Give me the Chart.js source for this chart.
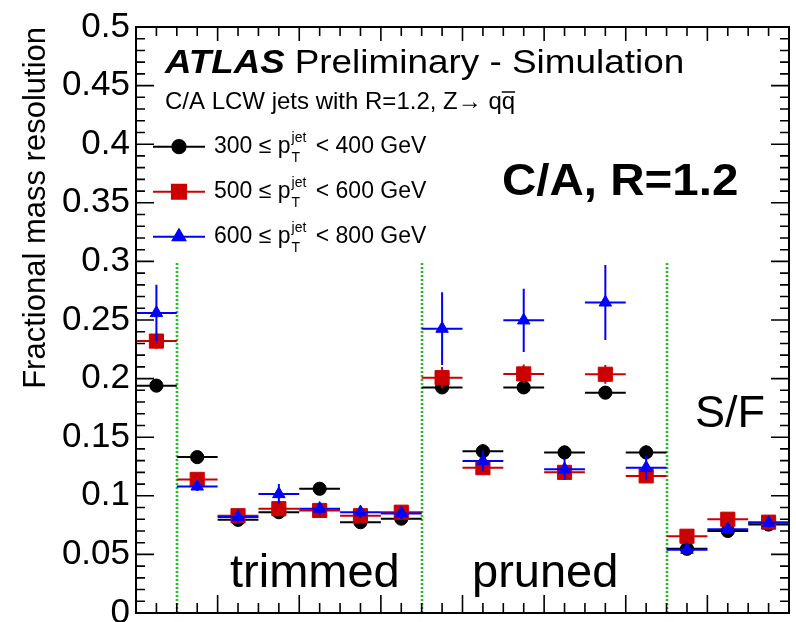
<!DOCTYPE html>
<html><head><meta charset="utf-8">
<script src="https://cdn.jsdelivr.net/npm/chart.js@4/dist/chart.umd.min.js"></script>
<style>html,body{margin:0;padding:0;overflow:hidden;background:#fff}canvas{display:block}</style>
</head><body>
<canvas id="c" width="800" height="660"></canvas>
<script>
// ---- data ----
const binCenters = [0.5,1.5,2.5,3.5,4.5,5.5,6.5,7.5,8.5,9.5,10.5,11.5,12.5,13.5,14.5,15.5];
const res300 = [0.194,0.133,0.0795,0.086,0.106,0.0775,0.0805,0.1925,0.138,0.1925,0.137,0.188,0.137,0.0548,0.0700,0.0755];
const err300 = [0.003,0.003,0.003,0.003,0.004,0.003,0.003,0.003,0.006,0.003,0.006,0.003,0.006,0.003,0.003,0.003];
const res500 = [0.232,0.114,0.083,0.089,0.0875,0.083,0.086,0.2008,0.124,0.204,0.120,0.2037,0.117,0.0655,0.080,0.0775];
const err500 = [0.0065,0.004,0.004,0.004,0.004,0.004,0.004,0.009,0.004,0.008,0.004,0.008,0.004,0.004,0.004,0.004];
const res600 = [0.256,0.108,0.082,0.1015,0.089,0.086,0.085,0.2426,0.1297,0.2497,0.1226,0.265,0.124,0.054,0.0715,0.077];
const err600 = [0.024,0.004,0.005,0.0085,0.005,0.005,0.005,0.031,0.009,0.027,0.009,0.032,0.010,0.004,0.004,0.004];
const yTickLabels = ['0','0.05','0.1','0.15','0.2','0.25','0.3','0.35','0.4','0.45','0.5'];
const sectionEdges = [1,7,13];
const sectionNames = ['trimmed','pruned','S/F'];
const ptLow = ['300','500','600'];
const ptHigh = ['400','600','800'];

const COLORS = ['#000000','#cc0000','#0000ff'];
const STYLES = ['circle','rect','triangle'];
const RADII = [6.6,10,7.2];
const FONT = '"Liberation Sans", Arial, Helvetica, sans-serif';

function pts(vals){ return vals.map((v,i)=>({x:binCenters[i], y:v})); }

const errorBars = {
  id:'errorBars',
  beforeDatasetDraw(chart,args){
    const ds = chart.data.datasets[args.index];
    const {ctx, scales:{x,y}} = chart;
    ctx.save();
    ctx.strokeStyle = ds.borderColor; ctx.lineWidth = 2;
    ctx.beginPath();
    ds.data.forEach((p,i)=>{
      const e = ds.errY[i];
      const px = x.getPixelForValue(p.x), py = y.getPixelForValue(p.y);
      ctx.moveTo(x.getPixelForValue(p.x-0.5), py); ctx.lineTo(x.getPixelForValue(p.x+0.5), py);
      ctx.moveTo(px, y.getPixelForValue(p.y-e)); ctx.lineTo(px, y.getPixelForValue(p.y+e));
    });
    ctx.stroke(); ctx.restore();
  }
};

function stretchedText(ctx, txt, x, y, sx){
  ctx.save(); ctx.translate(x,y); ctx.scale(sx,1); ctx.fillText(txt,0,0); ctx.restore();
  return ctx.measureText(txt).width*sx;
}

const sections = {
  id:'sections',
  beforeDatasetsDraw(chart){
    const {ctx, scales:{x,y}} = chart;
    ctx.save();
    ctx.strokeStyle = '#1ec21e'; ctx.lineWidth = 2.6; ctx.setLineDash([2,2]);
    ctx.beginPath();
    sectionEdges.forEach(e=>{ const px=Math.round(x.getPixelForValue(e)); ctx.moveTo(px,y.getPixelForValue(0)); ctx.lineTo(px,y.getPixelForValue(0.3)); });
    ctx.stroke(); ctx.setLineDash([]);
    ctx.fillStyle='#000'; ctx.textBaseline='alphabetic'; ctx.textAlign='left';
    ctx.font = '47px '+FONT;
    ctx.fillText(sectionNames[0], 230, 587);
    ctx.fillText(sectionNames[1], 472, 587);
    ctx.font = '45px '+FONT;
    ctx.fillText(sectionNames[2], 695, 427);
    ctx.restore();
  }
};

const texts = {
  id:'texts',
  afterDatasetsDraw(chart){
    const ctx = chart.ctx;
    ctx.save();
    ctx.fillStyle='#000'; ctx.textBaseline='alphabetic'; ctx.textAlign='left';
    ctx.font = 'italic bold 34px '+FONT;
    const w = stretchedText(ctx,'ATLAS',165,73,1.08);
    ctx.font = '34px '+FONT;
    stretchedText(ctx,'Preliminary - Simulation',165+w+10,73,1.085);
    ctx.font = '24px '+FONT;
    const sub = 'C/A LCW jets with R=1.2, Z\u2192 q';
    ctx.fillText(sub, 165, 109);
    const sw = ctx.measureText(sub).width;
    ctx.fillText('q', 165+sw, 109);
    const qw = ctx.measureText('q').width;
    ctx.lineWidth=1.5; ctx.strokeStyle='#000';
    ctx.beginPath(); ctx.moveTo(165+sw, 92); ctx.lineTo(165+sw+qw, 92); ctx.stroke();
    ctx.font = 'bold 44px '+FONT;
    stretchedText(ctx,'C/A, R=1.2',502,195,1.08);
    // legend
    const ys = [146.7,191.7,236.7];
    for (let i=0;i<3;i++){
      const yy = ys[i];
      ctx.strokeStyle = COLORS[i]; ctx.fillStyle = COLORS[i]; ctx.lineWidth = 2;
      ctx.beginPath(); ctx.moveTo(153,yy); ctx.lineTo(205,yy); ctx.stroke();
      Chart.helpers.drawPoint(ctx,{pointStyle:STYLES[i], radius:RADII[i], rotation:0, borderWidth:1}, 179, yy);
      ctx.fillStyle='#000';
      const base = yy+6.5;
      ctx.font='23px '+FONT;
      const a = ptLow[i]+' \u2264 p';
      ctx.fillText(a, 214, base);
      let xx = 214+ctx.measureText(a).width+1;
      ctx.font='14px '+FONT;
      ctx.fillText('jet', xx, base-11);
      ctx.fillText('T', xx, base+9);
      xx += ctx.measureText('jet').width+3;
      ctx.font='23px '+FONT;
      ctx.fillText(' < '+ptHigh[i]+' GeV', xx, base);
    }
    ctx.restore();
  }
};

const frame = {
  id:'frame',
  afterDraw(chart){
    const {ctx, chartArea:a, scales:{x,y}} = chart;
    ctx.save();
    ctx.strokeStyle='#000'; ctx.lineWidth=2;
    ctx.strokeRect(a.left, a.top, a.right-a.left, a.bottom-a.top);
    ctx.lineWidth=1.6;
    ctx.beginPath();
    for (let k=0;k<=32;k++){
      const v=k*0.5, px=x.getPixelForValue(v), major=(k%4===0);
      ctx.moveTo(px,a.bottom); ctx.lineTo(px,a.bottom-(major?18:10));
      ctx.moveTo(px,a.top); ctx.lineTo(px,a.top+(major?14:9));
    }
    for (let k=0;k<=50;k++){
      const py=y.getPixelForValue(k*0.01), major=(k%5===0);
      ctx.moveTo(a.left,py); ctx.lineTo(a.left+(major?18:9),py);
      ctx.moveTo(a.right,py); ctx.lineTo(a.right-(major?18:9),py);
    }
    ctx.stroke(); ctx.restore();
  }
};

const mk = (label,vals,errs,i)=>({
  label, data:pts(vals), errY:errs,
  backgroundColor:COLORS[i], borderColor:COLORS[i],
  pointStyle:STYLES[i], pointRadius:RADII[i], pointBorderWidth:1,
  pointHoverRadius:RADII[i], showLine:false, order:2-i
});

new Chart(document.getElementById('c'), {
  type:'scatter',
  data:{ datasets:[
    mk('300 ≤ pT < 400 GeV', res300, err300, 0),
    mk('500 ≤ pT < 600 GeV', res500, err500, 1),
    mk('600 ≤ pT < 800 GeV', res600, err600, 2)
  ]},
  options:{
    responsive:false, animation:false, events:[],
    layout:{padding:{left:0,right:3,top:23,bottom:47}},
    plugins:{legend:{display:false}, tooltip:{enabled:false}},
    scales:{
      x:{type:'linear', min:0, max:16, display:false},
      y:{type:'linear', min:0, max:0.5,
        grid:{display:false, drawTicks:false}, border:{display:false},
        ticks:{stepSize:0.05, padding:6, color:'#000', font:{family:FONT, size:35},
          callback:(v,i)=>yTickLabels[i]},
        title:{display:true, text:'Fractional mass resolution', align:'end', color:'#000',
          font:{family:FONT, size:31}, padding:{top:18,bottom:0}},
        afterFit(s){ s.width = 136; }
      }
    }
  },
  plugins:[sections, errorBars, texts, frame]
});
</script>
</body></html>
